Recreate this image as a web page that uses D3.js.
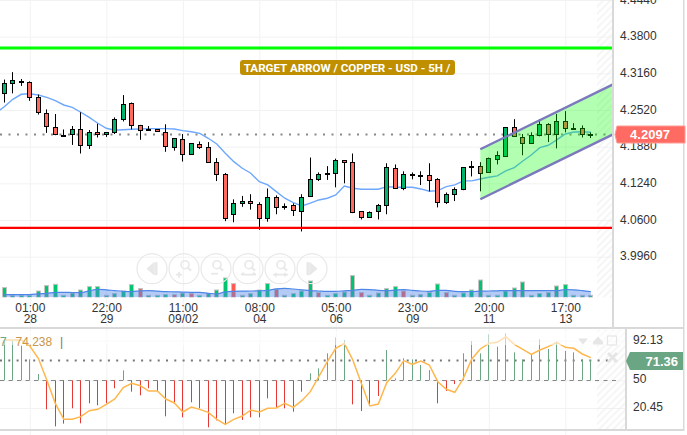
<!DOCTYPE html>
<html>
<head>
    <title>Copper - USD - 5H</title>
</head>
<style>
html, body { margin: 0; padding: 0; background: #fff; }
svg { display: block; }
text { font-family: "Liberation Sans", Arial, sans-serif; }
.axis .domain { display: none; }
.axis text { fill: #333; font-size: 12px; }
.grid .domain, .grid text { display: none; }
.grid line { stroke: #f2f2f2; }
</style>
<body>

<script src="https://cdnjs.cloudflare.com/ajax/libs/d3/7.8.5/d3.min.js"></script>
<script>

// candles
var opens = [4.281, 4.299, 4.300, 4.300, 4.274, 4.246, 4.222, 4.209, 4.209, 4.218,
             4.190, 4.213, 4.210, 4.213, 4.236, 4.264, 4.226, 4.218, 4.218, 4.213,
             4.188, 4.201, 4.175, 4.192, 4.187, 4.161, 4.140, 4.070, 4.089, 4.093,
             4.088, 4.063, 4.100, 4.082, 4.086, 4.077, 4.101, 4.131, 4.140, 4.142,
             4.164, 4.161, 4.075, 4.065, 4.075, 4.086, 4.150, 4.115, 4.138, 4.137,
             4.138, 4.131, 4.091, 4.105, 4.114, 4.152, 4.154, 4.143, 4.166, 4.172,
             4.222, 4.204, 4.194, 4.208, 4.227, 4.210, 4.232, 4.220, 4.220, 4.209];
var highs = [4.305, 4.318, 4.306, 4.302, 4.279, 4.253, 4.245, 4.218, 4.224, 4.248,
             4.217, 4.228, 4.213, 4.239, 4.278, 4.265, 4.226, 4.224, 4.218, 4.227,
             4.203, 4.210, 4.194, 4.197, 4.196, 4.168, 4.142, 4.096, 4.102, 4.105,
             4.091, 4.115, 4.103, 4.089, 4.089, 4.105, 4.169, 4.143, 4.154, 4.167,
             4.164, 4.176, 4.075, 4.075, 4.088, 4.159, 4.157, 4.145, 4.143, 4.145,
             4.159, 4.133, 4.108, 4.117, 4.152, 4.163, 4.161, 4.169, 4.180, 4.222,
             4.236, 4.210, 4.213, 4.236, 4.229, 4.245, 4.250, 4.229, 4.225, 4.213];
var lows = [4.265, 4.281, 4.294, 4.268, 4.244, 4.212, 4.208, 4.205, 4.191, 4.176,
            4.184, 4.204, 4.205, 4.210, 4.232, 4.218, 4.200, 4.217, 4.215, 4.179,
            4.181, 4.162, 4.175, 4.184, 4.161, 4.128, 4.058, 4.056, 4.083, 4.078,
            4.043, 4.057, 4.070, 4.078, 4.067, 4.040, 4.101, 4.128, 4.130, 4.117,
            4.124, 4.072, 4.061, 4.065, 4.061, 4.070, 4.114, 4.112, 4.131, 4.121,
            4.110, 4.082, 4.088, 4.093, 4.112, 4.136, 4.110, 4.142, 4.157, 4.171,
            4.206, 4.173, 4.194, 4.206, 4.196, 4.185, 4.213, 4.218, 4.204, 4.203];
var closes = [4.299, 4.304, 4.302, 4.274, 4.248, 4.224, 4.210, 4.209, 4.218, 4.190,
              4.213, 4.210, 4.213, 4.236, 4.262, 4.225, 4.218, 4.219, 4.215, 4.189,
              4.203, 4.175, 4.194, 4.187, 4.161, 4.140, 4.063, 4.089, 4.093, 4.089,
              4.063, 4.100, 4.082, 4.084, 4.077, 4.101, 4.131, 4.140, 4.142, 4.164,
              4.161, 4.074, 4.065, 4.074, 4.086, 4.152, 4.115, 4.140, 4.140, 4.139,
              4.129, 4.091, 4.105, 4.114, 4.152, 4.154, 4.142, 4.168, 4.173, 4.222,
              4.206, 4.194, 4.208, 4.227, 4.210, 4.232, 4.220, 4.218, 4.210, 4.2097];

// moving average on price, one point before the first candle
var maValues = [4.2467, 4.2577, 4.2706, 4.2794, 4.2804, 4.2781, 4.2741, 4.2682, 4.2607, 4.2567,
                4.2480, 4.2392, 4.2288, 4.2201, 4.2166, 4.2176, 4.2183, 4.2188, 4.2194, 4.2194,
                4.2194, 4.2188, 4.2159, 4.2141, 4.2113, 4.2026, 4.1927, 4.1765, 4.1618, 4.1503,
                4.1416, 4.1269, 4.1212, 4.1095, 4.0980, 4.0903, 4.0846, 4.0893, 4.0950, 4.0980,
                4.1037, 4.1194, 4.1154, 4.1137, 4.1137, 4.1137, 4.1182, 4.1172, 4.1172, 4.1172,
                4.1142, 4.1102, 4.1112, 4.1182, 4.1212, 4.1282, 4.1282, 4.1316, 4.1346, 4.1369,
                4.1456, 4.1514, 4.1630, 4.1735, 4.1862, 4.1904, 4.1997, 4.2101, 4.2136, 4.2141, 4.2131];

var volumes = [9.7, 2, 2, 2, 6.3, 11.7, 13, 2, 4.3, 7.3,
               10.7, 10.7, 2, 3.7, 6.3, 12.7, 8.7, 2, 2, 2.7,
               2.7, 4.3, 3.7, 2, 3.7, 7.3, 19.3, 13.7, 2, 3.7,
               7.3, 13.7, 8, 2, 3.7, 6.3, 16.3, 4.7, 2, 3.7,
               5.3, 21.7, 4.7, 2, 4.3, 8.7, 10.7, 6.3, 2, 2.7,
               4.7, 13.3, 4.7, 2, 4.3, 7.3, 17.3, 2, 2, 6.3,
               9.3, 15.3, 2, 3.7, 4.7, 11.3, 12.7, 2, 2, 2];
var volumeDown = [16, 20, 22, 27, 32, 37, 42, 47, 52];
var volumeAvg = [2.7, 2.7, 2.7, 2.7, 3.5, 4, 5, 5, 4.8, 4.7,
                 6.5, 8, 7.5, 6.7, 6, 5.7, 6.5, 6.7, 6.2, 5.7,
                 5.5, 5.2, 5, 5, 4, 3.3, 5.5, 6, 6.2, 6.3,
                 6.5, 7, 8.5, 9, 8.3, 7.5, 6.7, 6.3, 6, 6,
                 6.5, 7, 8, 7.7, 7, 6.7, 7.2, 7.7, 7, 6.3,
                 6, 7, 7, 6, 5.7, 5.8, 6.2, 6.3, 6.5, 6.7,
                 6.7, 6.7, 6.7, 6.7, 6.7, 6.7, 7.8, 7.5, 6.7, 5.7];

var rsiLine = [92.9, 92.9, 92.9, 86.5, 73.4, 50.3, 25.5, 8.5, 8.5, 11.3,
               17.7, 19.1, 24.4, 30.1, 42.2, 46.8, 44.3, 38.6, 38.6, 30.1,
               25.9, 16.3, 21.6, 19.1, 15.9, 8.5, 3.2, 8.5, 12.0, 18.4,
               16.3, 20.2, 20.5, 25.5, 21.2, 28.3, 37.9, 53.9, 69.8, 84.0,
               89.3, 71.6, 46.8, 22.7, 24.8, 47.8, 57.4, 70.9, 67.0, 70.5,
               66.3, 48.5, 40.4, 37.2, 52.1, 72.7, 83.3, 89.3, 90.4, 96.4,
               88.3, 82.9, 77.6, 82.2, 85.8, 90.4, 85.1, 84.0, 78.0, 74.1];
var rsiBars = [92.9, 91.8, 86.8, 72.3, 56.7, 19.1, 1.0, 3.9, 20.2, 4.2,
               25.5, 23.4, 25.5, 41.5, 60.6, 37.9, 34.0, 41.5, 38.3, 11.7,
               26.6, 10.6, 26.6, 20.2, 0, 7.4, 3.2, 14.9, 7.8, 10.6,
               10.6, 30.8, 21.2, 20.2, 16.6, 37.9, 57.4, 62.7, 78.7, 95.7,
               92.9, 24.4, 17.3, 23.7, 33.3, 82.2, 52, 73.4, 72.3, 66.3,
               61, 25.5, 38.6, 46, 78.7, 91.8, 78.7, 98.9, 85.8, 100,
               79.8, 72.3, 76.9, 93.6, 83.3, 91.1, 81.2, 79.8, 72.3, 71.36];

var timeTicks = [3, 12, 21, 30, 39, 48, 57, 66];
var timeLabels = ["01:00", "22:00", "11:00", "08:00", "05:00", "23:00", "20:00", "17:00"];
var dateLabels = ["28", "29", "09/02", "04", "06", "09", "11", "13"];
var priceTicks = [4.444, 4.38, 4.316, 4.252, 4.188, 4.124, 4.06, 3.996];
var rsiTicks = [92.13, 50, 20.45];

var targetLevel = 4.3601;
var stopLevel = 4.0462;
var lastPrice = 4.2097;
var lastRsi = 71.36;
var channelIndex = [56, 71.7];
var channelUpper = [4.1834, 4.2973];
var channelLower = [4.0962, 4.2101];

var w = 687;
var h = 435;
var plotRight = 612;
var rsiRight = 625;

var x = d3.scaleLinear().domain([0, 69]).range([4.3, 590.8]);
var y = d3.scaleLinear().domain([4.316, 4.06]).range([73.3, 220]);
var vol = d3.scaleLinear().domain([0, 25]).range([297.3, 272.3]);
var rsi = d3.scaleLinear().domain([0, 100]).range([427.3, 333.3]);

function snap(v) { return Math.floor(v) + 0.5; }

var svg = d3.select("body").append("svg")
    .attr("width", w)
    .attr("height", h);

var defs = svg.append("defs");
defs.append("clipPath").attr("id", "mainClip").append("rect")
    .attr("width", plotRight).attr("height", 327);
defs.append("clipPath").attr("id", "rsiClip").append("rect")
    .attr("y", 330).attr("width", rsiRight).attr("height", 99);
var hatch = defs.append("pattern").attr("id", "hatch")
    .attr("width", 5).attr("height", 5)
    .attr("patternUnits", "userSpaceOnUse")
    .attr("patternTransform", "rotate(-45)");
hatch.append("line").attr("x1", 0).attr("x2", 5).attr("y1", 2).attr("y2", 2)
    .attr("stroke", "#ececec").attr("stroke-width", 1);

// grids
svg.append("g").attr("class", "grid")
    .attr("transform", "translate(0,435)")
    .call(d3.axisBottom(x).tickValues(timeTicks).tickSize(-435).tickFormat(""));
svg.append("g").attr("class", "grid")
    .call(d3.axisRight(y).tickValues(priceTicks).tickSize(plotRight).tickFormat(""));
svg.append("g").attr("class", "grid")
    .call(d3.axisRight(rsi).tickValues(rsiTicks).tickSize(rsiRight).tickFormat(""));

// hatched end of the time range
svg.append("rect").attr("x", 597).attr("y", 0).attr("width", plotRight - 597).attr("height", 327)
    .attr("fill", "url(#hatch)");
svg.append("rect").attr("x", 597).attr("y", 330).attr("width", rsiRight - 597).attr("height", 99)
    .attr("fill", "url(#hatch)");

var main = svg.append("g").attr("clip-path", "url(#mainClip)");

// volume
var idx = d3.range(opens.length);
main.append("g").selectAll("rect")
    .data(idx)
    .enter()
    .append("rect")
    .attr("x", function(i) { return snap(x(i)) - 2; })
    .attr("y", function(i) { return vol(volumes[i]); })
    .attr("width", 4)
    .attr("height", function(i) { return vol(0) - vol(volumes[i]); })
    .attr("fill", function(i) { return volumeDown.indexOf(i) >= 0 ? "#ff5a50" : "#00c46e"; })
    .attr("stroke", "#c4c4c4");

var volArea = d3.area().curve(d3.curveMonotoneX)
    .x(function(i) { return x(i); })
    .y0(vol(0))
    .y1(function(i) { return vol(volumeAvg[i]); });
main.append("path").attr("d", volArea(idx))
    .attr("fill", "#4d86e8").attr("fill-opacity", 0.42);
main.append("path").attr("d", volArea.lineY1()(idx))
    .attr("fill", "none").attr("stroke", "#4d86e8").attr("stroke-width", 1.2);

// last price line
main.append("line").attr("x1", 0).attr("x2", plotRight)
    .attr("y1", snap(y(lastPrice))).attr("y2", snap(y(lastPrice)))
    .attr("stroke", "#888").attr("stroke-width", 2).attr("stroke-dasharray", "2,6.5");

// moving average
var maLine = d3.line()
    .x(function(d, i) { return x(i - 1); })
    .y(function(d) { return y(d); });
main.append("path").attr("d", maLine(maValues))
    .attr("fill", "none").attr("stroke", "#6ea8fe").attr("stroke-width", 1.4);

// candles
main.append("g").selectAll("line")
    .data(idx)
    .enter()
    .append("line")
    .attr("x1", function(i) { return snap(x(i)); })
    .attr("x2", function(i) { return snap(x(i)); })
    .attr("y1", function(i) { return y(highs[i]); })
    .attr("y2", function(i) { return y(lows[i]); })
    .attr("stroke", "#000");
main.append("g").selectAll("rect")
    .data(idx)
    .enter()
    .append("rect")
    .attr("x", function(i) { return snap(x(i)) - 2; })
    .attr("y", function(i) { return Math.round(y(Math.max(opens[i], closes[i]))) + 0.5; })
    .attr("width", 4)
    .attr("height", function(i) { return Math.max(Math.round(Math.abs(y(opens[i]) - y(closes[i]))), 1); })
    .attr("fill", function(i) { return closes[i] >= opens[i] ? "#00b56b" : "#ff6a5e"; })
    .attr("stroke", "#000");

// channel sits over the candles
var channelTop = channelIndex.map(function(d, i) { return [x(d), y(channelUpper[i])]; });
var channelBottom = channelIndex.map(function(d, i) { return [x(d), y(channelLower[i])]; });
main.append("path")
    .attr("d", d3.line()(channelTop.concat(channelBottom.slice().reverse())) + "Z")
    .attr("fill", "#00ff00").attr("fill-opacity", 0.3);
main.append("path").attr("d", d3.line()(channelTop))
    .attr("fill", "none").attr("stroke", "#7b78bd").attr("stroke-width", 2.4);
main.append("path").attr("d", d3.line()(channelBottom))
    .attr("fill", "none").attr("stroke", "#7b78bd").attr("stroke-width", 2.4);

// target and stop
main.append("line").attr("x1", 0).attr("x2", plotRight)
    .attr("y1", y(targetLevel)).attr("y2", y(targetLevel))
    .attr("stroke", "#00ff00").attr("stroke-width", 3);
main.append("line").attr("x1", 0).attr("x2", plotRight)
    .attr("y1", y(stopLevel)).attr("y2", y(stopLevel))
    .attr("stroke", "#ff0000").attr("stroke-width", 2.4);

// title
svg.append("rect").attr("x", 240).attr("y", 60).attr("width", 215).attr("height", 15)
    .attr("rx", 3).attr("fill", "#bf8f00");
svg.append("text").attr("x", 347).attr("y", 71.5)
    .attr("text-anchor", "middle").attr("fill", "#fff")
    .style("font-family", "Roboto, sans-serif")
    .attr("font-size", "11.6px").attr("font-weight", "bold")
    .text("TARGET ARROW / COPPER - USD - 5H /");

// navigation buttons
var navButtons = svg.append("g").attr("fill", "none").attr("stroke", "#e8e8e8");
[152, 184, 216, 248, 280, 312].forEach(function(cx, n) {
    var b = navButtons.append("g").attr("transform", "translate(" + cx + ",268.7)");
    b.append("circle").attr("r", 15).attr("stroke-width", 1.2);
    if (n === 0) {
        b.append("path").attr("d", "M-5,0L2,-6V6Z").attr("fill", "#e8e8e8");
        b.append("rect").attr("x", 3).attr("y", -6).attr("width", 2).attr("height", 12).attr("fill", "#e8e8e8");
    } else if (n === 5) {
        b.append("path").attr("d", "M5,0L-2,-6V6Z").attr("fill", "#e8e8e8");
        b.append("rect").attr("x", -5).attr("y", -6).attr("width", 2).attr("height", 12).attr("fill", "#e8e8e8");
    } else {
        b.append("circle").attr("cx", 1).attr("cy", -4).attr("r", 4).attr("stroke-width", 1.6);
        b.append("path").attr("d", "M4,-1L7,2").attr("stroke-width", 2);
        var marks = ["", "M-8,6H-2M-5,3V9", "M-5,5H2", "M-7,6H8M-7,6l3,-2M8,6l-3,-2", "M-7,6H8M-4,4V8M5,4V8"];
        b.append("path").attr("d", marks[n]).attr("stroke-width", 1.8);
    }
});

// rsi panel
var sub = svg.append("g").attr("clip-path", "url(#rsiClip)");
sub.append("line").attr("x1", 0).attr("x2", 616)
    .attr("y1", snap(rsi(50))).attr("y2", snap(rsi(50)))
    .attr("stroke", "#888").attr("stroke-dasharray", "4,4.5");
sub.append("line").attr("x1", 0).attr("x2", 616)
    .attr("y1", snap(rsi(lastRsi))).attr("y2", snap(rsi(lastRsi)))
    .attr("stroke", "#777").attr("stroke-width", 2).attr("stroke-dasharray", "2,6.3");
sub.append("g").selectAll("line")
    .data(idx)
    .enter()
    .append("line")
    .attr("x1", function(i) { return snap(x(i)); })
    .attr("x2", function(i) { return snap(x(i)); })
    .attr("y1", rsi(50))
    .attr("y2", function(i) { return rsi(rsiBars[i]); })
    .attr("stroke", function(i) { return rsiBars[i] >= 50 ? "#6aa584" : "#e53935"; });
var rsiPath = d3.line()
    .x(function(d, i) { return x(i); })
    .y(function(d) { return rsi(d); });
sub.append("path").attr("d", rsiPath(rsiLine))
    .attr("fill", "none").attr("stroke", "#ffb74d").attr("stroke-width", 1.5);

// faded band under the legend
svg.append("rect").attr("y", 331).attr("width", rsiRight).attr("height", 14)
    .attr("fill", "#fff").attr("fill-opacity", 0.55);
svg.append("text").attr("x", 0).attr("y", 346).attr("font-size", "12px")
    .attr("fill", "#6aa584").text("7");
svg.append("text").attr("x", 15.5).attr("y", 346).attr("font-size", "12px")
    .attr("fill", "#c8954a").text("74.238");
svg.append("text").attr("x", 60).attr("y", 346).attr("font-size", "12px")
    .attr("fill", "#777").text("|");

// small panel controls
var ctrl = svg.append("g").attr("fill", "#e6e6e6");
ctrl.append("path").attr("d", "M578,338.5H588L583,344.5Z");
ctrl.append("path").attr("d", "M598,336.5L603,342V344.5H593V342Z");
ctrl.append("rect").attr("x", 607.5).attr("y", 336).attr("width", 9).attr("height", 9)
    .attr("fill", "none").attr("stroke", "#e6e6e6").attr("stroke-width", 1.2);
ctrl.append("path").attr("d", "M608,353L617,362M617,353L608,362")
    .attr("stroke", "#e6e6e6").attr("stroke-width", 3);

// panel separators and right panels
svg.append("rect").attr("x", plotRight).attr("y", 0).attr("width", w - plotRight).attr("height", 328).attr("fill", "#fff");
svg.append("rect").attr("x", rsiRight).attr("y", 328).attr("width", w - rsiRight).attr("height", 103).attr("fill", "#fff");
svg.append("rect").attr("x", 0).attr("y", 297.5).attr("width", plotRight).attr("height", 30).attr("fill", "#fff");
svg.append("g").attr("class", "grid")
    .attr("transform", "translate(0,327)")
    .call(d3.axisBottom(x).tickValues(timeTicks).tickSize(-30).tickFormat(""));

svg.append("rect").attr("x", 612).attr("y", 0).attr("width", 2).attr("height", 328).attr("fill", "#d9d9d9");
svg.append("rect").attr("x", 625).attr("y", 328).attr("width", 2).attr("height", 103).attr("fill", "#d9d9d9");
svg.append("rect").attr("x", 683).attr("y", 0).attr("width", 1.5).attr("height", 431).attr("fill", "#d9d9d9");
svg.append("rect").attr("x", 0).attr("y", 327).attr("width", 684).attr("height", 2).attr("fill", "#d9d9d9");
svg.append("rect").attr("x", 0).attr("y", 429).attr("width", 684).attr("height", 2).attr("fill", "#d9d9d9");

// axes
var timeAxis = svg.append("g").attr("class", "axis")
    .attr("transform", "translate(0,298)")
    .call(d3.axisBottom(x).tickValues(timeTicks).tickSize(0).tickPadding(6)
        .tickFormat(function(d, i) { return timeLabels[i]; }));
timeAxis.selectAll("text")
    .attr("dy", null)
    .attr("y", 14)
    .each(function(d, i) {
        d3.select(this).append("tspan")
            .attr("x", 0).attr("dy", 11)
            .text(dateLabels[i]);
    });

var priceAxis = svg.append("g").attr("class", "axis")
    .attr("transform", "translate(620,-0.7)")
    .call(d3.axisRight(y).tickValues(priceTicks).tickSize(0).tickPadding(0)
        .tickFormat(d3.format(".4f")));
var rsiAxis = svg.append("g").attr("class", "axis")
    .attr("transform", "translate(633,-1.2)")
    .call(d3.axisRight(rsi).tickValues(rsiTicks).tickSize(0).tickPadding(0)
        .tickFormat(function(d) { return d; }));

// last value tags
svg.append("path").attr("d", "M617,126H685V143H617L615,134.5Z").attr("fill", "#ff6a63").attr("stroke", "#ff9a94").attr("stroke-width", 1);
svg.append("text").attr("x", 650).attr("y", 139)
    .attr("text-anchor", "middle").attr("fill", "#fff")
    .attr("font-size", "13px").attr("font-weight", "bold")
    .text(d3.format(".4f")(lastPrice));
svg.append("path").attr("d", "M630,352H683V370H630L626,361Z").attr("fill", "#6aa584");
svg.append("text").attr("x", 678).attr("y", 365.5)
    .attr("text-anchor", "end").attr("fill", "#fff")
    .attr("font-size", "13px").attr("font-weight", "bold")
    .text(lastRsi);

</script>
</body>
</html>
